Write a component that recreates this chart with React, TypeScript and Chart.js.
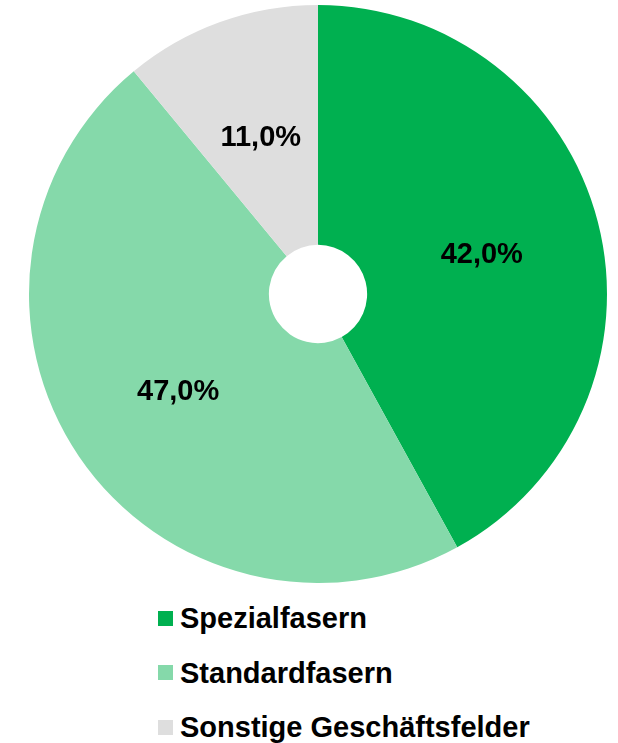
import React, { useEffect, useRef } from "react";
import { Chart, registerables } from "chart.js";

Chart.register(...registerables);

const categories = ["Spezialfasern", "Standardfasern", "Sonstige Geschäftsfelder"];
const shares = [42.0, 47.0, 11.0];
const colors = ["#00B050", "#85D9AA", "#DEDEDE"];

const FONT = "'Liberation Sans', Arial, sans-serif";
const LABEL_SIZE = 29;

const fmt = (v: number) => v.toFixed(1).replace(".", ",") + "%";

const labelPlugin = {
  id: "sliceLabels",
  afterDatasetsDraw(chart: any) {
    const ctx = chart.ctx;
    const meta = chart.getDatasetMeta(0);
    ctx.save();
    ctx.font = `bold ${LABEL_SIZE}px ${FONT}`;
    ctx.fillStyle = "#000000";
    ctx.textAlign = "center";
    ctx.textBaseline = "alphabetic";
    meta.data.forEach((arc: any, i: number) => {
      const p = arc.tooltipPosition();
      ctx.fillText(fmt(shares[i]), p.x, p.y + LABEL_SIZE * 0.36 + 1);
    });
    ctx.restore();
  },
};

export default function App() {
  const ref = useRef<HTMLCanvasElement | null>(null);
  useEffect(() => {
    if (!ref.current) return;
    const chart = new Chart(ref.current, {
      type: "doughnut",
      data: {
        labels: categories,
        datasets: [
          {
            data: shares,
            backgroundColor: colors,
            borderWidth: 0,
          },
        ],
      },
      options: {
        animation: false,
        responsive: false,
        cutout: "17%",
        layout: { padding: { top: 5, bottom: 0, left: 29, right: 11 } },
        plugins: {
          legend: { display: false },
          tooltip: { enabled: false },
        },
      },
      plugins: [labelPlugin],
    });
    return () => chart.destroy();
  }, []);

  const legendRow = (i: number) => (
    <div
      key={i}
      style={{
        position: "absolute",
        left: 158,
        top: 618 + i * 54.5 - 20,
        height: 40,
        display: "flex",
        alignItems: "center",
        whiteSpace: "nowrap",
      }}
    >
      <span
        style={{
          display: "inline-block",
          width: 15,
          height: 15,
          background: colors[i],
          marginRight: 7,
        }}
      />
      <span
        style={{
          fontFamily: FONT,
          fontWeight: "bold",
          fontSize: 29,
          color: "#000",
          lineHeight: "40px",
        }}
      >
        {categories[i]}
      </span>
    </div>
  );

  return (
    <div
      style={{
        position: "absolute",
        left: 0,
        top: 0,
        width: 618,
        height: 743,
        background: "#ffffff",
        overflow: "hidden",
      }}
    >
      <canvas
        ref={ref}
        width={618}
        height={583}
        style={{ position: "absolute", left: 0, top: 0, width: 618, height: 583 }}
      />
      {categories.map((_, i) => legendRow(i))}
    </div>
  );
}
